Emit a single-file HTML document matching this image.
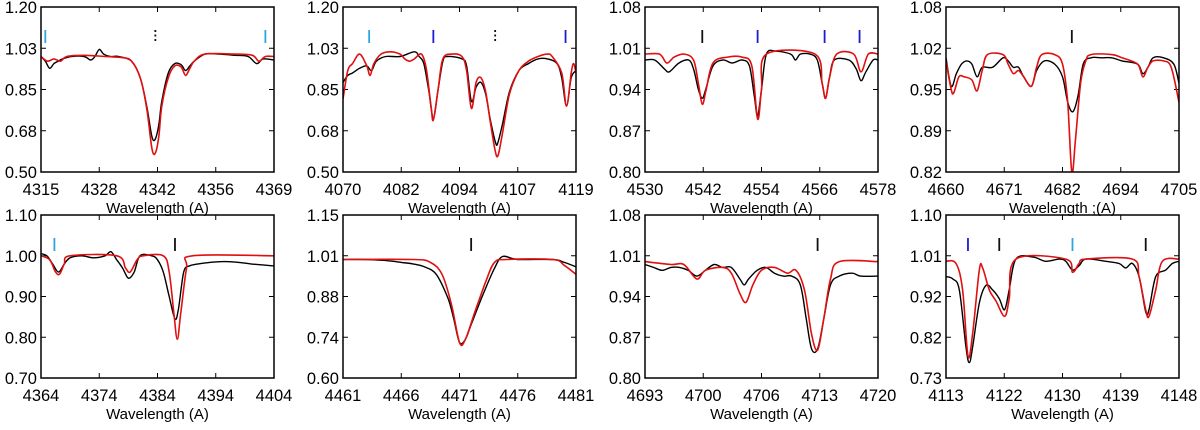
<!DOCTYPE html>
<html><head><meta charset="utf-8">
<style>
html,body{margin:0;padding:0;background:#fff;}
svg{display:block;font-family:"Liberation Sans",sans-serif;}
</style></head>
<body>
<svg id="chart" width="1200" height="430" viewBox="0 0 1200 430" xmlns="http://www.w3.org/2000/svg"></svg>
<script>
const panelXRanges=[[4315,4369],[4070,4119],[4530,4578],[4660,4705],[4364,4404],[4461,4481],[4693,4720],[4113,4148]];
const panelYRanges=[[0.50,1.20],[0.50,1.20],[0.80,1.08],[0.82,1.08],[0.70,1.10],[0.60,1.15],[0.80,1.08],[0.73,1.10]];
const xTickLabels=[["4315","4328","4342","4356","4369"],["4070","4082","4094","4107","4119"],["4530","4542","4554","4566","4578"],["4660","4671","4682","4694","4705"],["4364","4374","4384","4394","4404"],["4461","4466","4471","4476","4481"],["4693","4700","4706","4713","4720"],["4113","4122","4130","4139","4148"]];
const yTickLabels=[["0.50","0.68","0.85","1.03","1.20"],["0.50","0.68","0.85","1.03","1.20"],["0.80","0.87","0.94","1.01","1.08"],["0.82","0.89","0.95","1.02","1.08"],["0.70","0.80","0.90","1.00","1.10"],["0.60","0.74","0.88","1.01","1.15"],["0.80","0.87","0.94","1.01","1.08"],["0.73","0.82","0.92","1.01","1.10"]];
const xLabels=["Wavelength  (A)","Wavelength  (A)","Wavelength  (A)","Wavelength  ;(A)","Wavelength  (A)","Wavelength  (A)","Wavelength  (A)","Wavelength  (A)"];
const observed=[
[[4315,0.99],[4316,0.97],[4317,0.94],[4318,0.96],[4319,0.97],[4320,0.98],[4322,0.99],[4325,0.99],[4326.5,0.975],[4327.5,0.99],[4328.5,1.02],[4329.5,1.0],[4331,0.99],[4333,0.99],[4336,0.97],[4338,0.90],[4339.5,0.78],[4340.7,0.65],[4341.5,0.64],[4342.3,0.70],[4343,0.80],[4344.5,0.92],[4346,0.96],[4347.5,0.955],[4348.5,0.93],[4349.5,0.95],[4350.5,0.97],[4353,1.0],[4356,1.0],[4360,0.995],[4363,0.99],[4365,0.96],[4366.5,0.98],[4369,0.975]],
[[4070,0.88],[4071,0.91],[4072,0.92],[4073.5,0.94],[4075,0.95],[4076,0.93],[4077,0.97],[4079,0.99],[4082,0.99],[4085,1.01],[4086,0.99],[4087,0.96],[4088,0.85],[4089,0.73],[4090,0.85],[4091,0.97],[4092,0.99],[4095,0.98],[4096,0.95],[4097,0.80],[4098,0.86],[4099,0.88],[4100,0.83],[4101,0.72],[4102,0.63],[4102.5,0.62],[4103.5,0.70],[4105,0.84],[4107,0.93],[4109,0.96],[4111,0.98],[4113,0.98],[4115,0.96],[4116,0.90],[4117,0.78],[4118,0.90],[4119,0.93]],
[[4530,0.99],[4532,0.99],[4534,0.975],[4535,0.97],[4537,0.985],[4539,0.99],[4540,0.975],[4541,0.94],[4541.8,0.925],[4542.5,0.94],[4544,0.98],[4546,0.99],[4548,0.985],[4550,0.99],[4551.5,0.98],[4552.5,0.93],[4553.2,0.895],[4554,0.94],[4555,1.0],[4557,1.005],[4560,1.0],[4561,0.99],[4562,1.0],[4564,1.0],[4565.5,0.99],[4566.5,0.95],[4567.2,0.925],[4568,0.96],[4569,0.99],[4572,0.99],[4573.5,0.975],[4574.5,0.955],[4575.5,0.97],[4577,0.99],[4578,0.99]],
[[4660,1.0],[4661,0.955],[4662,0.975],[4663,0.99],[4664,0.995],[4665,0.99],[4666,0.97],[4667,0.985],[4669,0.985],[4671,1.0],[4672,0.995],[4673,0.985],[4674,0.985],[4675,0.97],[4676.5,0.955],[4677.5,0.98],[4679,0.995],[4681,0.99],[4682.5,0.97],[4683.5,0.93],[4684.5,0.915],[4685.5,0.94],[4686.5,0.99],[4688,1.0],[4690,1.0],[4692,1.0],[4694,0.995],[4697,0.99],[4698,0.975],[4699,0.985],[4700,1.0],[4702,1.0],[4704,0.99],[4705,0.96]],
[[4364,1.005],[4365,1.0],[4366,0.98],[4367,0.96],[4368,0.98],[4369,0.995],[4371,1.0],[4373,0.995],[4375,1.0],[4376,1.01],[4377,0.99],[4378,0.97],[4379,0.945],[4380,0.96],[4381,1.0],[4383,1.0],[4384,0.99],[4385,0.96],[4386,0.90],[4387,0.845],[4387.6,0.87],[4388.5,0.96],[4389.5,0.975],[4391,0.98],[4394,0.985],[4397,0.985],[4400,0.98],[4404,0.975]],
[[4461,1.0],[4463,1.0],[4465,0.995],[4466,0.99],[4467,0.985],[4468,0.975],[4469,0.95],[4470,0.87],[4470.5,0.80],[4471,0.72],[4471.5,0.73],[4472,0.78],[4473,0.88],[4474,0.97],[4474.7,1.01],[4476,1.0],[4479,1.0],[4480,0.99],[4481,0.975]],
[[4693,0.995],[4694,0.99],[4695,0.985],[4696,0.99],[4697,0.99],[4698,0.985],[4699,0.975],[4700,0.985],[4701,0.995],[4702,0.99],[4703,0.99],[4704,0.97],[4704.5,0.96],[4705,0.97],[4706,0.985],[4707,0.99],[4708,0.98],[4709,0.975],[4710,0.975],[4711,0.96],[4711.7,0.90],[4712.3,0.85],[4713,0.85],[4713.7,0.90],[4714.5,0.96],[4715.5,0.975],[4717,0.98],[4718,0.975],[4720,0.975]],
[[4113,0.96],[4114,0.955],[4115,0.93],[4116,0.80],[4116.5,0.765],[4117,0.80],[4118,0.90],[4119,0.94],[4120,0.93],[4121,0.91],[4121.8,0.885],[4122.5,0.93],[4123.5,1.0],[4126,1.005],[4128,0.995],[4130,1.0],[4131,0.995],[4132,0.975],[4133,0.985],[4134,1.0],[4137,0.995],[4139,0.99],[4140,0.98],[4141,0.99],[4142,0.96],[4143,0.88],[4143.5,0.885],[4144.5,0.96],[4146,0.975],[4147,0.99],[4148,0.995]]
];
const model=[
[[4315,0.99],[4316.5,0.97],[4318,0.98],[4319.5,0.97],[4321,0.99],[4325,0.995],[4330,0.99],[4334,0.985],[4336,0.97],[4338,0.90],[4339.5,0.77],[4340.7,0.60],[4341.5,0.58],[4342.3,0.65],[4343,0.78],[4344.5,0.90],[4346,0.95],[4347.5,0.945],[4348.5,0.91],[4349.5,0.94],[4350.5,0.97],[4353,1.0],[4360,1.0],[4364,0.995],[4365.5,0.97],[4367,0.99],[4369,0.99]],
[[4070,0.81],[4071,0.93],[4072,0.96],[4073.5,1.00],[4075,0.95],[4075.7,0.91],[4076.5,0.96],[4078,1.00],[4080,1.01],[4082,1.00],[4083,0.98],[4084,0.97],[4085,0.98],[4086.5,1.00],[4087.5,0.94],[4088.5,0.78],[4089,0.72],[4090,0.85],[4091,0.98],[4093,1.00],[4095,0.99],[4096,0.93],[4097,0.77],[4098,0.88],[4099,0.90],[4100,0.84],[4101,0.71],[4102,0.59],[4102.6,0.57],[4103.5,0.66],[4105,0.83],[4107,0.93],[4109,0.97],[4111,0.99],[4113,1.0],[4114,0.99],[4116,0.92],[4117,0.78],[4118,0.92],[4118.5,0.96],[4119,0.92]],
[[4530,1.0],[4533,1.0],[4534.5,0.985],[4536,0.995],[4538,1.0],[4540,0.99],[4541,0.95],[4541.8,0.915],[4542.6,0.94],[4544,0.985],[4547,0.995],[4550,0.995],[4552,0.98],[4553.2,0.89],[4554,0.94],[4555,1.0],[4565,1.0],[4566.5,0.95],[4567.2,0.925],[4568,0.96],[4569.5,1.0],[4573,1.0],[4574.5,0.97],[4576,1.0],[4578,1.0]],
[[4660,0.995],[4661,0.95],[4661.5,0.945],[4662.5,0.97],[4663.5,0.97],[4665,0.965],[4666,0.948],[4667,0.98],[4668,1.005],[4671,1.005],[4672,0.99],[4673,0.975],[4674,0.98],[4675,0.97],[4676.5,0.955],[4677.5,0.985],[4678.5,1.005],[4681,1.005],[4682.5,0.99],[4683.5,0.93],[4684.3,0.82],[4685,0.87],[4686,0.96],[4687,0.995],[4688,1.005],[4692,1.005],[4694,1.0],[4697,0.99],[4698,0.97],[4699,0.985],[4700,0.995],[4702,0.995],[4703.5,0.985],[4705,0.93]],
[[4364,1.0],[4365.5,0.99],[4366.5,0.96],[4367.2,0.955],[4368,0.98],[4369,1.0],[4377,1.0],[4378.5,0.97],[4379.3,0.96],[4380.5,0.99],[4381.5,1.0],[4385,1.0],[4386,0.96],[4386.8,0.86],[4387.4,0.795],[4388,0.86],[4389,0.97],[4390,1.0],[4404,1.0]],
[[4461,1.0],[4467,1.0],[4468.5,0.99],[4469.5,0.95],[4470.3,0.85],[4471,0.72],[4471.5,0.73],[4472.3,0.82],[4473.3,0.93],[4474,0.99],[4475,1.0],[4479,1.0],[4480,0.98],[4481,0.95]],
[[4693,1.0],[4696,0.995],[4697.5,0.995],[4699,0.97],[4700,0.985],[4702,0.99],[4703,0.98],[4704,0.945],[4704.7,0.93],[4705.5,0.96],[4706.5,0.985],[4708,0.99],[4709.5,0.98],[4710.5,0.985],[4711.5,0.95],[4712.3,0.875],[4713,0.848],[4713.7,0.9],[4714.5,0.97],[4715.5,1.0],[4720,1.0]],
[[4113,0.995],[4114.5,0.99],[4115.5,0.93],[4116.3,0.78],[4117,0.83],[4118,0.975],[4118.5,0.98],[4119.5,0.93],[4120.5,0.905],[4121.8,0.87],[4122.5,0.91],[4123.5,1.0],[4131,1.0],[4132,0.97],[4133,0.99],[4134,1.0],[4141,1.0],[4142,0.96],[4143,0.885],[4143.5,0.87],[4144.5,0.93],[4145.5,0.995],[4148,1.0]]
];
const markerWaves=[[4316,4341.5,4367],[4075.5,4089,4102,4116.8],[4541.8,4553.2,4567,4574.2],[4684.3],[4366.3,4387],[4472],[4713],[4116.3,4121,4132,4143]];
const markerKinds=[["c","d","c"],["c","b","d","b"],["k","b","b","b"],["k"],["c","k"],["k"],["k"],["b","k","c","k"]];

const NS="http://www.w3.org/2000/svg";
const svg=document.getElementById('chart');
const colX=[41,343,645,946], rowY=[7,215], PW=233, PH=[165,163];
const kindColor={c:"#2aa6e0",b:"#1c1cd0",k:"#111",d:"#111"};
function mk(tag,attrs,parent){const e=document.createElementNS(NS,tag);for(const k in attrs)e.setAttribute(k,attrs[k]);(parent||svg).appendChild(e);return e;}
function smoothPath(pts){
  let d='M'+pts[0][0].toFixed(1)+','+pts[0][1].toFixed(1);
  for(let i=0;i<pts.length-1;i++){
    const p0=pts[Math.max(0,i-1)],p1=pts[i],p2=pts[i+1],p3=pts[Math.min(pts.length-1,i+2)];
    const t=1/6;
    const c1=[p1[0]+(p2[0]-p0[0])*t,p1[1]+(p2[1]-p0[1])*t];
    const c2=[p2[0]-(p3[0]-p1[0])*t,p2[1]-(p3[1]-p1[1])*t];
    d+=' C'+c1[0].toFixed(1)+','+c1[1].toFixed(1)+' '+c2[0].toFixed(1)+','+c2[1].toFixed(1)+' '+p2[0].toFixed(1)+','+p2[1].toFixed(1);
  }
  return d;
}
for(let p=0;p<8;p++){
  const x0=colX[p%4], y0=rowY[Math.floor(p/4)], h=PH[Math.floor(p/4)];
  const g=mk('g',{});
  
  
  const [xa,xb]=panelXRanges[p],[ya,yb]=panelYRanges[p];
  const sx=v=>x0+(v-xa)/(xb-xa)*PW;
  const sy=v=>y0+h-(v-ya)/(yb-ya)*h;
  const clipId='clip'+p;
  const cp=mk('clipPath',{id:clipId},g);mk('rect',{x:x0,y:y0,width:PW,height:h},cp);
  for(let i=0;i<5;i++){
    const tx=x0+i*PW/4, ty=y0+h-i*h/4;
    mk('line',{x1:tx,y1:y0+h,x2:tx,y2:y0+h-5,stroke:'#000','stroke-width':1},g);
    mk('line',{x1:tx,y1:y0,x2:tx,y2:y0+5,stroke:'#000','stroke-width':1},g);
    mk('line',{x1:x0,y1:ty,x2:x0+5,y2:ty,stroke:'#000','stroke-width':1},g);
    mk('line',{x1:x0+PW,y1:ty,x2:x0+PW-5,y2:ty,stroke:'#000','stroke-width':1},g);
    const xt=mk('text',{x:tx,y:y0+h+23,'text-anchor':'middle','font-size':16.5,fill:'#000'},g);
    xt.textContent=xTickLabels[p][i];
    
    
    const yt=mk('text',{x:x0-4,y:ty+6,'text-anchor':'end','font-size':16.5,fill:'#000'},g);
    yt.textContent=yTickLabels[p][i];
    
    
  }
  const xl=mk('text',{x:x0+PW/2,y:y0+h+41,'text-anchor':'middle','font-size':15,fill:'#000'},g);
  xl.textContent=xLabels[p];
  
  
  const inner=mk('g',{'clip-path':'url(#'+clipId+')'},g);
  const ob=mk('path',{d:smoothPath(observed[p].map(d=>[sx(d[0]),sy(d[1])])),fill:'none',stroke:'#000','stroke-width':1.4,'stroke-linejoin':'round'},inner);
  
  
  const md=mk('path',{d:smoothPath(model[p].map(d=>[sx(d[0]),sy(d[1])])),fill:'none',stroke:'#e01010','stroke-width':1.6,'stroke-linejoin':'round'},inner);
  
  
  markerWaves[p].forEach((w,i)=>{
    const k=markerKinds[p][i];
    const m=mk('line',{x1:sx(w),y1:y0+23,x2:sx(w),y2:y0+36,stroke:kindColor[k],'stroke-width':1.8},g);
    if(k==='d')m.setAttribute('stroke-dasharray','2,2.5');
    
    
  });
  const fr=mk('rect',{x:x0,y:y0,width:PW,height:h,fill:'none',stroke:'#000','stroke-width':1.5},g);
  
  
}
</script>
</body></html>
